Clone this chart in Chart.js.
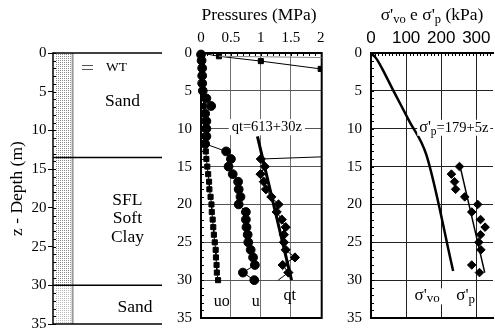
<!DOCTYPE html>
<html><head><meta charset="utf-8">
<script src="https://cdn.jsdelivr.net/npm/chart.js@4.4.1/dist/chart.umd.min.js"></script>
<style>
html,body{margin:0;padding:0;background:#fff;}
#wrap{position:relative;width:495px;height:336px;overflow:hidden;background:#fff;}
canvas{position:absolute;top:0;}
</style></head><body>
<div id="wrap">
<canvas id="c1" width="170" height="336" style="left:0px"></canvas>
<canvas id="c2" width="170" height="336" style="left:160px"></canvas>
<canvas id="c3" width="165" height="336" style="left:330px"></canvas>
</div>
<script>
// ---------------- DATA ----------------
const depthTickValues = [0, 5, 10, 15, 20, 25, 30, 35];
const pressureTickValues = [0, 0.5, 1, 1.5, 2];
const stressTickValues = [0, 100, 200, 300];

const layerBoundaries = [0, 13.5, 30, 35];

// hydrostatic pore pressure uo (MPa)
const uoDepth = [1,2,3,4,5,6,7,8,9,10,11,12,13,14,15,16,17,18,19,20,21,22,23,24,25,26,27,28,29,30];
const uoMPa   = [0,0.01,0.02,0.02,0.03,0.04,0.045,0.05,0.055,0.06,0.065,0.07,0.08,0.09,0.105,0.12,0.135,0.14,0.16,0.175,0.18,0.195,0.205,0.215,0.23,0.245,0.25,0.26,0.265,0.285];

// measured pore pressure u (MPa)
const uDepth = [0.2,1,2,3,4,5,6,7,8,9,10,11,12,13,14,15,16,17,18,19,20,21,22,23,24,25,26,27,28,29,30];
const uMPa   = [0,0.01,0.02,0.02,0.02,0.03,0.09,0.17,0.07,0.09,0.09,0.09,0.07,0.42,0.50,0.46,0.53,0.62,0.63,0.66,0.63,0.75,0.75,0.76,0.78,0.79,0.83,0.87,0.90,0.70,0.89];

// cone resistance qt in upper sand (MPa) - runs off the axis
const qtSandDepth = [0, 0.43, 1.07, 2.1, 3.5];
const qtSandMPa   = [0, 0.3, 1.0, 2.0, 4.5];
const qtSandBranchDepth = [0.43, 0.7];
const qtSandBranchMPa   = [0.3, 3.0];

// cone resistance qt in clay (MPa)
const qtDepth = [13.3,14,15,16,17,18,19,20,21,22,23,24,25,26,27,28,29,30];
const qtMPa   = [3.5,1.0,1.065,0.995,1.05,1.085,1.175,1.295,1.265,1.35,1.415,1.385,1.385,1.415,1.57,1.365,1.46,1.29];

// fitted line qt = 613 + 30z (kPa)
const qtFitDepth = [11, 30];
const qtFitMPa   = [0.943, 1.513];

// effective vertical stress sigma'vo (kPa)
const sigmaVoDepth = [0, 0.5, 1, 2, 5, 9, 13.5, 28.8];
const sigmaVoKPa   = [0, 11, 19, 31, 64, 109, 158, 234];

// preconsolidation stress sigma'p (kPa)
const sigmaPDepth = [15,16,17,18,19,20,21,22,23,24,25,26,28,29];
const sigmaPKPa   = [252,229,238,241,267,304,287,312,325,312,307,313,287,309];

// fitted line sigma'p = 179 + 5z (kPa)
const sigmaPFitDepth = [15, 29];
const sigmaPFitKPa   = [254, 324];

// ---------------- HELPERS ----------------
const SERIF = '"Liberation Serif", "Times New Roman", serif';
const SANS = '"Liberation Sans", Arial, sans-serif';
const pts = (xs, ys) => xs.map((v, i) => ({x: v, y: ys[i]}));

function drawRich(ctx, parts, x, y, align, bg) {
  let w = 0;
  parts.forEach(p => { ctx.font = p.s + 'px ' + (p.f || SERIF); p._w = ctx.measureText(p.t).width; w += p._w; });
  let sx = align === 'left' ? x : (align === 'right' ? x - w : x - w / 2);
  if (bg) { ctx.fillStyle = '#fff'; ctx.fillRect(sx - bg, y - 12, w + 2 * bg, 16); }
  ctx.textAlign = 'left'; ctx.textBaseline = 'alphabetic'; ctx.fillStyle = '#000';
  parts.forEach(p => { ctx.font = p.s + 'px ' + (p.f || SERIF); ctx.fillText(p.t, sx, y + (p.dy || 0)); sx += p._w; });
}

function notesPlugin(items) {
  return { id: 'notes', afterDatasetsDraw(chart) {
    const ctx = chart.ctx; ctx.save();
    items.forEach(it => {
      const x = it.px ? it.px[0] : chart.scales.x.getPixelForValue(it.x);
      const y = it.px ? it.px[1] : chart.scales.y.getPixelForValue(it.y);
      drawRich(ctx, it.parts, x, y, it.align || 'center', it.bg);
    });
    ctx.restore();
  }};
}

function framePlugin(sides, width, minor) {
  return { id: 'frame', beforeDatasetsDraw(chart) {
    const a = chart.chartArea, ctx = chart.ctx;
    ctx.save(); ctx.strokeStyle = '#000';
    // minor ticks (inward)
    ctx.lineWidth = 1;
    minor.forEach(m => {
      const sc = chart.scales[m.axis];
      for (let v = m.from; v <= m.to + 1e-9; v += m.step) {
        const p = Math.round(sc.getPixelForValue(v)) + 0.5;
        ctx.beginPath();
        if (m.axis === 'y') { ctx.moveTo(a.left, p); ctx.lineTo(a.left + m.len, p); }
        else { ctx.moveTo(p, a.top); ctx.lineTo(p, a.top + m.len); }
        ctx.stroke();
      }
    });
    ctx.lineWidth = width; ctx.lineCap = 'square';
    ctx.beginPath();
    if (sides.includes('l')) { ctx.moveTo(a.left, a.top); ctx.lineTo(a.left, a.bottom); }
    if (sides.includes('t')) { ctx.moveTo(a.left, a.top); ctx.lineTo(a.right, a.top); }
    if (sides.includes('r')) { ctx.moveTo(a.right, a.top); ctx.lineTo(a.right, a.bottom); }
    if (sides.includes('b')) { ctx.moveTo(a.left, a.bottom); ctx.lineTo(a.right, a.bottom); }
    ctx.stroke();
    ctx.restore();
  }};
}

function depthAxis(width, pad, gridOn, drawTicks, gridColor, title) {
  return {
    type: 'linear', position: 'left', reverse: true, min: 0, max: 35,
    afterFit: s => { s.width = width; },
    afterBuildTicks: s => { s.ticks = depthTickValues.map(v => ({value: v})); },
    ticks: { font: {family: SERIF, size: 15}, color: '#000', padding: pad, callback: v => String(v) },
    grid: { drawOnChartArea: gridOn, drawTicks: drawTicks, tickLength: 5, lineWidth: 1,
            color: ctx => (gridOn && ctx.tick && (ctx.tick.value === 0 || ctx.tick.value === 35)) ? 'rgba(0,0,0,0)' : gridColor },
    border: { display: false },
    title: title || { display: false }
  };
}

const baseOpts = (padding) => ({
  responsive: false, animation: false, devicePixelRatio: 1,
  layout: { padding: padding, autoPadding: false },
  plugins: { legend: {display: false}, tooltip: {enabled: false} },
  events: []
});

// ---------------- CHART 1: soil profile ----------------
const colLeft = 0.018, colRight = 0.18;
const columnPlugin = { id: 'column', beforeDatasetsDraw(chart) {
  const ctx = chart.ctx, xs = chart.scales.x, ys = chart.scales.y;
  const mk = (color) => { const c = document.createElement('canvas'); c.width = 2; c.height = 2;
    const g = c.getContext('2d'); g.fillStyle = color; g.fillRect(0, 0, 1, 1); return ctx.createPattern(c, 'repeat'); };
  const x0 = xs.getPixelForValue(colLeft), x1 = xs.getPixelForValue(colRight);
  const y0 = ys.getPixelForValue(0), y30 = ys.getPixelForValue(30), y35 = ys.getPixelForValue(35);
  ctx.save();
  ctx.fillStyle = mk('#8a8a8a'); ctx.fillRect(x0, y0, x1 - x0, y30 - y0);
  ctx.fillStyle = mk('#bbbbbb'); ctx.fillRect(x0, y30, x1 - x0, y35 - y30);
  // water table symbol
  ctx.strokeStyle = '#555'; ctx.lineWidth = 1;
  const wx0 = xs.getPixelForValue(0.266), wx1 = xs.getPixelForValue(0.367);
  [1.61, 2.13].forEach(d => { const y = Math.round(ys.getPixelForValue(d)) + 0.5;
    ctx.beginPath(); ctx.moveTo(wx0, y); ctx.lineTo(wx1, y); ctx.stroke(); });
  ctx.restore();
}};

const layerDatasets = layerBoundaries.map(b => ({
  data: [{x: 0, y: b}, {x: 1, y: b}], showLine: true, borderColor: '#000', borderWidth: 1.6,
  pointRadius: 0, clip: false
}));
layerDatasets.push({ data: [{x: colRight, y: 0}, {x: colRight, y: 35}], showLine: true,
  borderColor: '#999', borderWidth: 2, pointRadius: 0, clip: false });

new Chart(document.getElementById('c1'), {
  type: 'scatter',
  data: { datasets: layerDatasets },
  options: Object.assign(baseOpts({top: 53, bottom: 12, left: 0, right: 8}), {
    scales: {
      x: { type: 'linear', display: false, min: 0, max: 1 },
      y: depthAxis(53, 1.5, false, true, '#000', { display: true, text: 'z - Depth (m)',
            font: {family: SERIF, size: 17.5}, color: '#000', padding: {top: 7, bottom: 0} })
    }
  }),
  plugins: [columnPlugin, framePlugin('l', 1.5, [{axis: 'y', from: 0, to: 35, step: 1, len: 3}]),
    notesPlugin([
      { x: 0.583, y: 2.32, parts: [{t: 'WT', s: 13.5}] },
      { x: 0.638, y: 6.85, parts: [{t: 'Sand', s: 17.5}] },
      { x: 0.683, y: 19.63, parts: [{t: 'SFL', s: 17.5}] },
      { x: 0.683, y: 22.02, parts: [{t: 'Soft', s: 17.5}] },
      { x: 0.683, y: 24.41, parts: [{t: 'Clay', s: 17.5}] },
      { x: 0.752, y: 33.45, parts: [{t: 'Sand', s: 17.5}] }
    ])]
});

// ---------------- CHART 2: pressures ----------------
const hideEnds = (arr) => (ctx => (ctx.dataIndex === 0 || ctx.dataIndex === arr.length - 1) ? 0 : undefined);

new Chart(document.getElementById('c2'), {
  type: 'scatter',
  data: { datasets: [
    { data: pts(qtFitMPa, qtFitDepth), showLine: true, borderColor: '#000', borderWidth: 3, pointRadius: 0 },
    { data: pts(qtMPa, qtDepth), showLine: true, borderColor: '#000', borderWidth: 1,
      pointStyle: 'rectRot', backgroundColor: '#000', pointBackgroundColor: '#000', pointBorderColor: '#000',
      pointRadius: ctx => (ctx.dataIndex === 0 || ctx.dataIndex === qtDepth.length - 1) ? 0 : 4.6 },
    { data: pts(uMPa, uDepth), showLine: true, borderColor: '#000', borderWidth: 1, clip: false,
      pointStyle: 'circle', pointBackgroundColor: '#000', pointBorderColor: '#000', pointRadius: 4.4 },
    { data: pts(uoMPa, uoDepth), showLine: true, borderColor: '#000', borderWidth: 1, clip: false,
      pointStyle: 'rect', pointBackgroundColor: '#000', pointBorderColor: '#000', pointRadius: 3.6 },
    { data: pts(qtSandBranchMPa, qtSandBranchDepth), showLine: true, borderColor: '#888', borderWidth: 1, pointRadius: 0 },
    { data: pts(qtSandMPa, qtSandDepth), showLine: true, borderColor: '#000', borderWidth: 1,
      pointStyle: 'rect', pointBackgroundColor: '#000', pointBorderColor: '#000',
      pointRadius: ctx => (ctx.dataIndex === 0 || ctx.dataIndex === qtSandDepth.length - 1) ? 0 : 3.6 }
  ]},
  options: Object.assign(baseOpts({top: 0, bottom: 12, left: 0, right: 8}), {
    scales: {
      x: { type: 'linear', position: 'top', min: 0, max: 2.017,
        afterFit: s => { s.height = 53; },
        afterBuildTicks: s => { s.ticks = pressureTickValues.map(v => ({value: v})); },
        ticks: { font: {family: SERIF, size: 15}, color: '#000', padding: 5.5, callback: v => String(v) },
        grid: { drawTicks: false, lineWidth: 1,
          color: ctx => (ctx.tick && (ctx.tick.value === 0 || ctx.tick.value === 2)) ? 'rgba(0,0,0,0)' : '#707070' },
        border: { display: false } },
      y: depthAxis(41, 9, true, false, '#555')
    }
  }),
  plugins: [framePlugin('ltrb', 2, [{axis: 'y', from: 0, to: 35, step: 1, len: 3}, {axis: 'x', from: 0, to: 2, step: 0.1, len: 3}]),
    notesPlugin([
      { px: [99, 20], parts: [{t: 'Pressures (MPa)', s: 17.5}] },
      { x: 1.1, y: 10.33, parts: [{t: 'qt=613+30z', s: 14.5}], bg: 3 },
      { x: 0.345, y: 33.39, parts: [{t: 'uo', s: 16}] },
      { x: 0.917, y: 33.39, parts: [{t: 'u', s: 16}] },
      { x: 1.483, y: 32.67, parts: [{t: 'qt', s: 16}] }
    ])]
});

// ---------------- CHART 3: stresses ----------------
new Chart(document.getElementById('c3'), {
  type: 'scatter',
  data: { datasets: [
    { data: pts(sigmaPFitKPa, sigmaPFitDepth), showLine: true, borderColor: '#000', borderWidth: 1.5, pointRadius: 0 },
    { data: pts(sigmaPKPa, sigmaPDepth), showLine: false, pointStyle: 'rectRot',
      pointBackgroundColor: '#000', pointBorderColor: '#000', pointRadius: 4.3 },
    { data: pts(sigmaVoKPa, sigmaVoDepth), showLine: true, borderColor: '#000', borderWidth: 2.5, pointRadius: 0,
      cubicInterpolationMode: 'monotone' }
  ]},
  options: Object.assign(baseOpts({top: 0, bottom: 12, left: 0, right: 0}), {
    scales: {
      x: { type: 'linear', position: 'top', min: 0, max: 347.6,
        afterFit: s => { s.height = 53; },
        afterBuildTicks: s => { s.ticks = stressTickValues.map(v => ({value: v})); },
        ticks: { font: {family: SANS, size: 17}, color: '#000', padding: 4.5, callback: v => String(v) },
        grid: { drawTicks: false, lineWidth: 1,
          color: ctx => (ctx.tick && ctx.tick.value === 0) ? 'rgba(0,0,0,0)' : '#222' },
        border: { display: false } },
      y: depthAxis(41, 9, true, false, '#222')
    }
  }),
  plugins: [framePlugin('ltb', 2, [{axis: 'y', from: 0, to: 35, step: 1, len: 3}, {axis: 'x', from: 0, to: 340, step: 10, len: 3}]),
    notesPlugin([
      { px: [102, 20], parts: [{t: "σ'", s: 17.5}, {t: 'vo', s: 12.5, dy: 3}, {t: " e σ'", s: 17.5}, {t: 'p', s: 12.5, dy: 3}, {t: ' (kPa)', s: 17.5}] },
      { x: 137.5, y: 10.4, align: 'left', parts: [{t: "σ'", s: 16}, {t: 'p', s: 11.5, dy: 3}, {t: '=179+5z', s: 14.5}], bg: 2 },
      { x: 160, y: 32.67, parts: [{t: "σ'", s: 17}, {t: 'vo', s: 13, dy: 2}], bg: 3 },
      { x: 269.4, y: 32.67, parts: [{t: "σ'", s: 17}, {t: 'p', s: 13, dy: 3}] }
    ])]
});
</script>
</body></html>
